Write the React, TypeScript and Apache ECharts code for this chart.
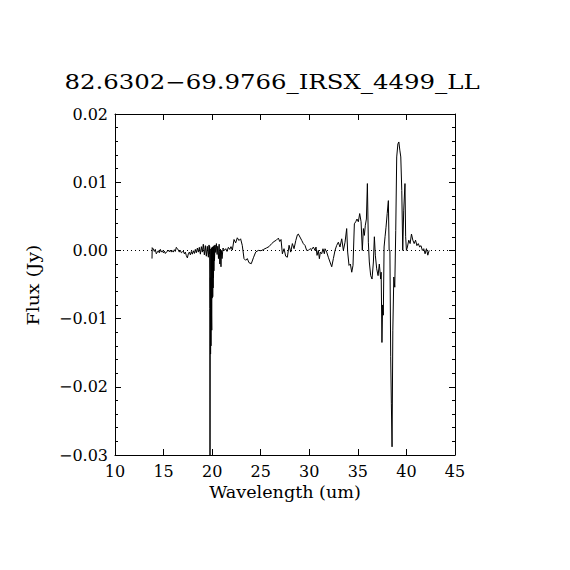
import React, { useEffect, useRef } from "react";
import * as echarts from "echarts";

const TITLE = "82.6302\u221269.9766_IRSX_4499_LL";
const X_NAME = "Wavelength (um)";
const Y_NAME = "Flux (Jy)";

const xTicks = { min: 10, max: 45, step: 5 };
const yTicks = { min: -0.03, max: 0.02, step: 0.01 };

const wavelength = [
  13.81, 13.83, 13.95, 14.05, 14.15, 14.25, 14.36, 14.46, 14.56, 14.67, 14.77, 14.87, 14.98, 15.08, 15.18,
  15.28, 15.39, 15.49, 15.59, 15.7, 15.8, 15.9, 16.0, 16.11, 16.21, 16.31, 16.42, 16.52, 16.62, 16.73,
  16.83, 16.93, 17.03, 17.14, 17.24, 17.34, 17.45, 17.55, 17.65, 17.76, 17.86, 17.96, 18.06, 18.17, 18.27,
  18.37, 18.48, 18.58, 18.68, 18.79, 18.89, 18.99, 19.09, 19.2, 19.3, 19.4, 19.5, 19.61, 19.68,
  19.72, 19.74, 19.76, 19.78, 19.8, 19.82, 19.84, 19.86, 19.88, 19.9, 19.92, 19.94, 19.96, 19.98, 20.0,
  20.02, 20.04, 20.06, 20.08, 20.1, 20.12, 20.14, 20.16, 20.18, 20.21, 20.24,
  20.3, 20.37, 20.44, 20.51, 20.58, 20.65, 20.72, 20.79, 20.86, 20.91, 20.95, 21.02, 21.12, 21.26, 21.4,
  21.53, 21.67, 21.81, 21.94, 22.08, 22.25, 22.42, 22.59, 22.76, 22.93, 23.1, 23.28, 23.45, 23.62, 23.79,
  24.03, 24.27, 24.48, 24.75, 25.03, 25.3, 25.58, 25.85, 26.13, 26.37, 26.61, 26.82, 26.96, 27.09, 27.23,
  27.4, 27.57, 27.74, 27.92, 28.09, 28.26, 28.43, 28.61, 28.78, 28.87, 29.04, 29.22, 29.39, 29.56, 29.73,
  29.9, 30.07, 30.25, 30.42, 30.59, 30.69, 30.8, 30.93, 31.04, 31.14, 31.28, 31.41, 31.55, 31.62, 31.79,
  31.96, 32.13, 32.31, 32.48, 32.65, 32.82, 32.99, 33.16, 33.34, 33.51, 33.68, 33.85, 33.95, 34.09, 34.23,
  34.37, 34.5, 34.64, 34.78, 34.91, 35.05, 35.19, 35.33, 35.46, 35.57, 35.67, 35.77, 35.88, 35.98, 36.08,
  36.18, 36.32, 36.46, 36.6, 36.7, 36.8, 36.94, 37.08, 37.21, 37.35, 37.4, 37.48, 37.55, 37.62, 37.7,
  37.8, 37.9, 38.02, 38.14, 38.22, 38.3, 38.38, 38.45, 38.52, 38.6, 38.7, 38.8, 38.9, 39.0, 39.12,
  39.22, 39.32, 39.42, 39.52, 39.62, 39.72, 39.85, 39.92, 40.0, 40.1, 40.24, 40.38, 40.52, 40.66, 40.8,
  40.94, 41.08, 41.22, 41.36, 41.5, 41.64, 41.78, 41.92, 42.06, 42.2, 42.34,
];

const flux = [
  -0.0012, 0.0004, 0.0002, -0.00015, 0.00015, -0.0005, -0.00025, -0.00005, -0.00035, 0.00015, -0.00025, -0.00005, -0.00035, -0.0001, -0.00045,
  -0.00025, -0.00015, 0.00005, -0.0002, 0.00005, -0.00025, -0.00005, -0.00025, 0.0001, -0.00015, 0.00045, 0.00025, 0.00005, -0.00025, 0.0,
  -0.00035, -0.00025, -0.0001, -0.0005, -0.00025, -0.00075, -0.0011, -0.0005, -0.00025, -0.00065, -0.00015, -0.00055, -0.00005, -0.00045, 0.00015,
  -0.00035, 0.00035, -0.00025, 0.00045, -0.00055, 0.00055, -0.00025, 0.0009, -0.00065, 0.0007, -0.00085, 0.0006, -0.001, 0.0008,
  -0.0005, 0.0006, -0.0085, -0.032, -0.015, -0.004, -0.0152, 0.0002, -0.014, -0.007, 0.0004, -0.0095, -0.0117, 0.0002, -0.007,
  -0.003, 0.0005, -0.0068, 0.0004, -0.0055, 0.0006, -0.004, 0.0002, -0.003, 0.0007, -0.0015,
  0.0008, -0.0003, 0.001, -0.0006, 0.0006, -0.0012, 0.0009, -0.002, 0.0002, -0.0024, 0.0, -0.0012, 0.00035, 0.0, 0.00025,
  -0.00015, 0.00045, 0.00015, 0.00055, 0.00005, 0.0016, 0.0011, 0.00185, 0.00145, 0.0017, 0.00075, -0.0012, -0.00145, -0.0012, -0.0018,
  -0.00195, -0.001, -0.00025, 0.0, -0.00005, 0.00015, 0.00035, 0.00055, 0.001, 0.0013, 0.0015, 0.0018, 0.0013, 0.0016, -0.0005,
  0.00025, -0.00085, -0.001, 0.00075, -0.00025, 0.001, 0.00025, 0.00145, 0.0023, 0.0024, 0.00196, 0.00147, 0.00098, 0.00073, 0.0,
  0.0, 0.00024, 0.00015, 0.00049, 0.0, 0.00049, -0.00073, 0.0, -0.00122, -0.00024, -0.00049, 0.00024, -0.00049, 0.00024, -0.00024,
  -0.001, -0.0017, -0.0024, -0.0012, 0.0, 0.00073, 0.0012, 0.0005, 0.0017, 0.0, 0.0012, 0.0032, -0.00024, -0.0022, -0.002,
  -0.0032, -0.0022, 0.0039, 0.0042, 0.0046, 0.0042, 0.0054, 0.0042, 0.0, 0.0032, 0.0022, 0.0037, 0.0046, 0.0098, 0.0012,
  -0.0017, -0.0037, -0.0042, -0.0017, 0.002, -0.0007, -0.0027, -0.0037, -0.002, -0.0042, -0.0032, -0.0135, -0.008, -0.0095, 0.0005,
  0.002, 0.0034, 0.0054, 0.0073, 0.0, 0.0, -0.0156, -0.0225, -0.0288, -0.0117, -0.0039, -0.0054, 0.0029, 0.0137, 0.0156,
  0.0159, 0.0147, 0.0137, 0.0088, 0.0, 0.0059, 0.0098, 0.002, 0.0, 0.0005, 0.0015, 0.001, 0.0024, 0.0015, 0.001,
  0.0015, 0.0007, 0.001, 0.0005, 0.0007, 0.0, 0.00025, -0.0005, 0.00025, -0.0007, 0.0,
];

const FONT = '"DejaVu Serif", serif';

function yFmt(v: number): string {
  const r = Math.round(v * 100) / 100;
  if (r === 0) return "0.00";
  return (r < 0 ? "\u2212" : "") + Math.abs(r).toFixed(2);
}

export default function App() {
  const ref = useRef<HTMLDivElement>(null);
  useEffect(() => {
    if (!ref.current) return;
    const chart = echarts.init(ref.current, undefined, { renderer: "svg" });
    const data = wavelength.map((w, i) => [w, flux[i]]);
    const axisLine = { show: true, onZero: false, lineStyle: { color: "#000", width: 1 } };
    const xBase = {
      type: "value" as const,
      min: xTicks.min,
      max: xTicks.max,
      interval: xTicks.step,
      axisLine,
      axisTick: { show: true, inside: true, length: 6, lineStyle: { color: "#000" } },
      splitLine: { show: false },
    };
    const yBase = {
      type: "value" as const,
      min: yTicks.min,
      max: yTicks.max,
      interval: yTicks.step,
      axisLine,
      axisTick: { show: true, inside: true, length: 6, lineStyle: { color: "#000" } },
      minorTick: { show: true, splitNumber: 5, length: 3, lineStyle: { color: "#000" } },
      splitLine: { show: false },
      minorSplitLine: { show: false },
    };
    chart.setOption({
      animation: false,
      backgroundColor: "#fff",
      grid: { left: 115, top: 114, width: 340, height: 341, containLabel: false },
      xAxis: [
        {
          ...xBase,
          position: "bottom",
          axisLabel: { show: true, color: "#000", fontSize: 16, fontFamily: FONT, margin: 8 },
        },
        { ...xBase, position: "top", axisLabel: { show: false } },
      ],
      yAxis: [
        {
          ...yBase,
          position: "left",
          axisLabel: { show: true, color: "#000", fontSize: 16, fontFamily: FONT, margin: 7, formatter: yFmt },
        },
        { ...yBase, position: "right", axisLabel: { show: false } },
      ],
      graphic: [
        {
          type: "text",
          x: 272,
          y: 82,
          scaleX: 1.22,
          style: { text: TITLE, font: `20px ${FONT}`, fill: "#000", align: "center", verticalAlign: "middle" },
        },
        {
          type: "text",
          x: 285,
          y: 492,
          scaleX: 1.1,
          style: { text: X_NAME, font: `16px ${FONT}`, fill: "#000", align: "center", verticalAlign: "middle" },
        },
        {
          type: "text",
          x: 34,
          y: 285,
          rotation: Math.PI / 2,
          scaleX: 1.18,
          style: { text: Y_NAME, font: `16px ${FONT}`, fill: "#000", align: "center", verticalAlign: "middle" },
        },
      ],
      series: [
        {
          type: "line",
          data,
          xAxisIndex: 0,
          yAxisIndex: 0,
          symbol: "none",
          showSymbol: false,
          smooth: false,
          sampling: undefined,
          clip: true,
          lineStyle: { color: "#000", width: 1 },
          markLine: {
            silent: true,
            symbol: "none",
            label: { show: false },
            lineStyle: { color: "#000", width: 1, type: [1, 3] },
            data: [{ yAxis: 0 }],
          },
        },
      ],
    });
    return () => chart.dispose();
  }, []);
  return (
    <div
      ref={ref}
      style={{ position: "fixed", left: 0, top: 0, width: 570, height: 570, background: "#fff" }}
    />
  );
}
